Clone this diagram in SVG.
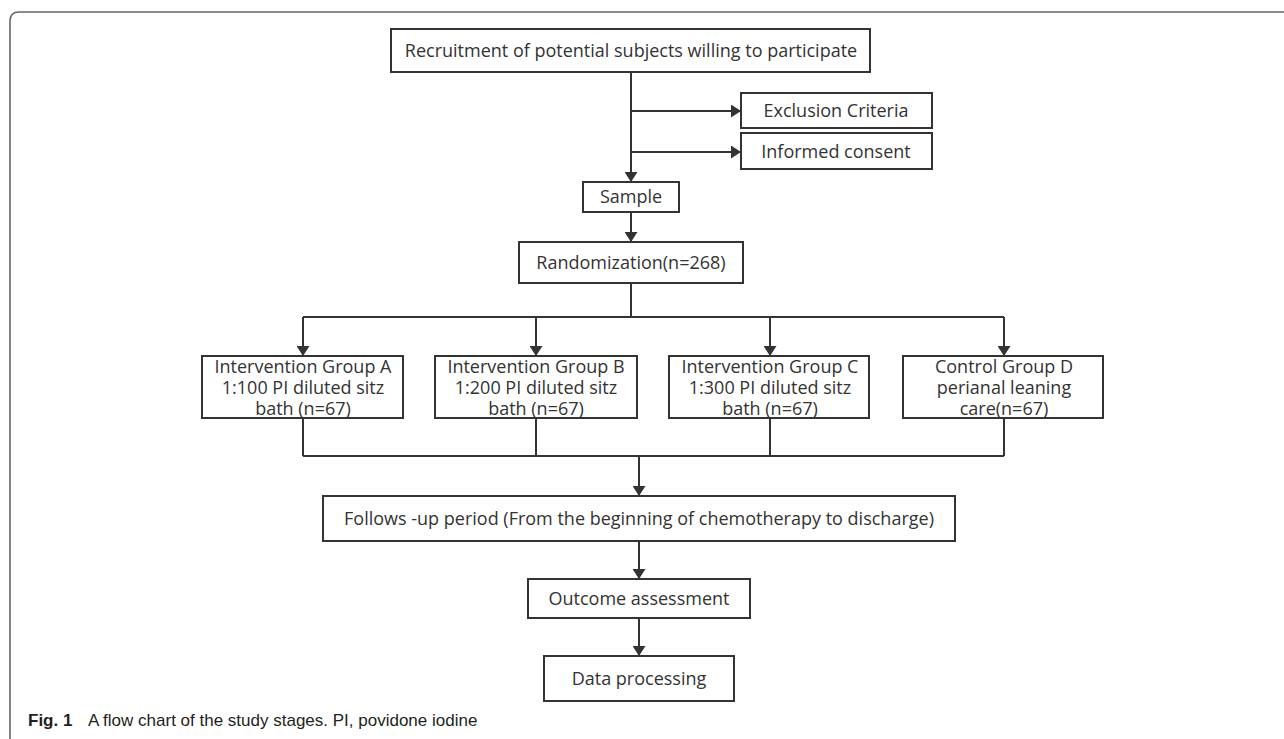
<svg xmlns="http://www.w3.org/2000/svg" width="1284" height="739" viewBox="0 0 1284 739">
<defs>
<marker id="arr" viewBox="0 0 10 13" refX="10" refY="6.5" markerWidth="10" markerHeight="13" markerUnits="userSpaceOnUse" orient="auto-start-reverse">
<path d="M0,0 L10,6.5 L0,13 Z" fill="#333"/>
</marker>
<style>
.box{fill:#fff;stroke:#333;stroke-width:2}
.t{font-family:"Open Sans","Noto Sans",sans-serif;font-size:18px;fill:#333;text-anchor:middle}
.ln{fill:none;stroke:#333;stroke-width:2}
.ar{fill:none;stroke:#333;stroke-width:2;marker-end:url(#arr)}
.cap{font-family:"Liberation Sans",Arial,sans-serif;font-size:17px;fill:#231f20}
</style>
</defs>
<rect width="1284" height="739" fill="#fff"/>
<path d="M10,739 V21 Q10,12 19,12 H1284" fill="none" stroke="#666" stroke-width="1.6"/>

<g id="connectors">
<line class="ln" x1="631" y1="72" x2="631" y2="172"/>
<path class="ar" d="M631,160 V182"/>
<path class="ar" d="M631,111 H741"/>
<path class="ar" d="M631,152 H741"/>
<path class="ar" d="M631,212 V242"/>
<path class="ln" d="M631,283 V317 M303,317 H1004"/>
<path class="ar" d="M303,317 V356"/>
<path class="ar" d="M536,317 V356"/>
<path class="ar" d="M770,317 V356"/>
<path class="ar" d="M1004,317 V356"/>
<path class="ln" d="M303,418 V456 M536,418 V456 M770,418 V456 M1004,418 V456 M303,456 H1004"/>
<path class="ar" d="M639,456 V496"/>
<path class="ar" d="M639,541 V579"/>
<path class="ar" d="M639,618 V656"/>
</g>

<g id="recruitment">
<rect class="box" x="391" y="29" width="479" height="43"/>
<text class="t" x="631" y="57">Recruitment of potential subjects willing to participate</text>
</g>
<g id="exclusion">
<rect class="box" x="741" y="93" width="191" height="35"/>
<text class="t" x="836" y="117">Exclusion Criteria</text>
</g>
<g id="consent">
<rect class="box" x="741" y="133" width="191" height="36"/>
<text class="t" x="836" y="158">Informed consent</text>
</g>
<g id="sample">
<rect class="box" x="583" y="182" width="96" height="30"/>
<text class="t" x="631" y="203">Sample</text>
</g>
<g id="randomization">
<rect class="box" x="519" y="242" width="224" height="41"/>
<text class="t" x="631" y="269">Randomization(n=268)</text>
</g>
<g id="groupA">
<rect class="box" x="202" y="356" width="201" height="62"/>
<text class="t" x="303" y="373">Intervention Group A</text>
<text class="t" x="303" y="394">1:100 PI diluted sitz</text>
<text class="t" x="303" y="415">bath (n=67)</text>
</g>
<g id="groupB">
<rect class="box" x="435" y="356" width="202" height="62"/>
<text class="t" x="536" y="373">Intervention Group B</text>
<text class="t" x="536" y="394">1:200 PI diluted sitz</text>
<text class="t" x="536" y="415">bath (n=67)</text>
</g>
<g id="groupC">
<rect class="box" x="669" y="356" width="200" height="62"/>
<text class="t" x="770" y="373">Intervention Group C</text>
<text class="t" x="770" y="394">1:300 PI diluted sitz</text>
<text class="t" x="770" y="415">bath (n=67)</text>
</g>
<g id="groupD">
<rect class="box" x="903" y="356" width="200" height="62"/>
<text class="t" x="1004" y="373">Control Group D</text>
<text class="t" x="1004" y="394">perianal leaning</text>
<text class="t" x="1004" y="415">care(n=67)</text>
</g>
<g id="followup">
<rect class="box" x="323" y="496" width="632" height="45"/>
<text class="t" x="639" y="525">Follows -up period (From the beginning of chemotherapy to discharge)</text>
</g>
<g id="outcome">
<rect class="box" x="528" y="579" width="222" height="39"/>
<text class="t" x="639" y="605">Outcome assessment</text>
</g>
<g id="data">
<rect class="box" x="544" y="656" width="190" height="45"/>
<text class="t" x="639" y="685">Data processing</text>
</g>
<text class="cap" x="28" y="726"><tspan font-weight="bold">Fig. 1</tspan><tspan x="88">A flow chart of the study stages. PI, povidone iodine</tspan></text>
</svg>
